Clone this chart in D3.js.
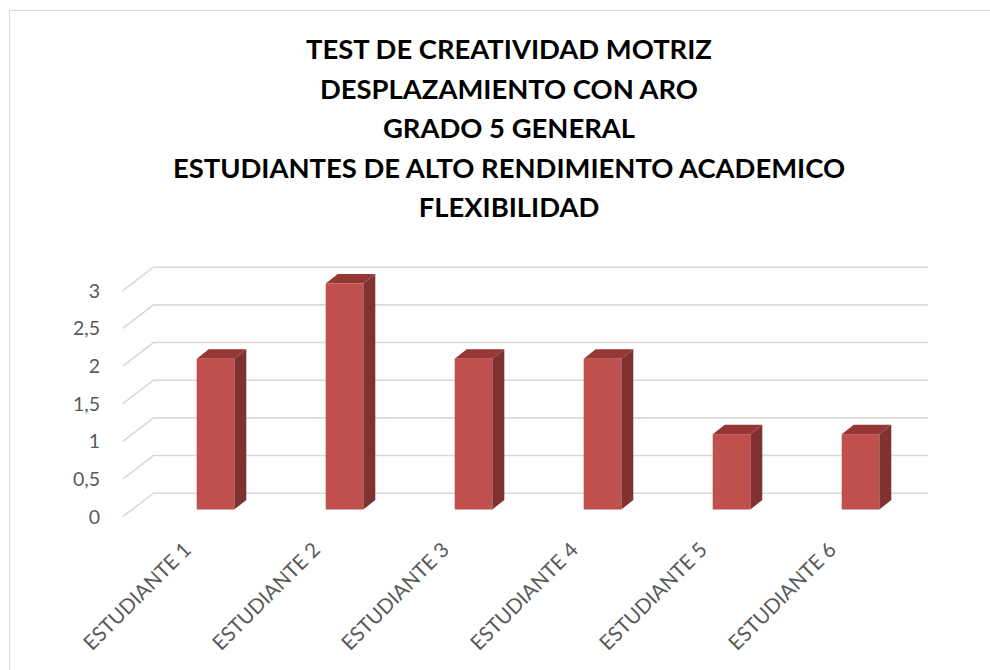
<!DOCTYPE html>
<html>
<head>
<meta charset="utf-8">
<script src="https://cdn.jsdelivr.net/npm/d3@7"></script>
<style>
  html, body { margin: 0; padding: 0; background: #fff; }
  svg { display: block; }
</style>
</head>
<body>
<svg id="chart" width="990" height="670"></svg>
<script>
// ---- data ----
const titleLines = [
  "TEST DE CREATIVIDAD MOTRIZ",
  "DESPLAZAMIENTO CON ARO",
  "GRADO 5 GENERAL",
  "ESTUDIANTES DE ALTO RENDIMIENTO ACADEMICO",
  "FLEXIBILIDAD"
];
const categories = ["ESTUDIANTE 1", "ESTUDIANTE 2", "ESTUDIANTE 3", "ESTUDIANTE 4", "ESTUDIANTE 5", "ESTUDIANTE 6"];
const values = [2, 3, 2, 2, 1, 1];
const yTicks = [0, 0.5, 1, 1.5, 2, 2.5, 3];
const yTickLabels = ["0", "0,5", "1", "1,5", "2", "2,5", "3"];

// ---- layout ----
const svg = d3.select("#chart");
const font = "Lato, 'Open Sans', 'DejaVu Sans', sans-serif";

// outer border
svg.append("rect")
  .attr("x", 9.5).attr("y", 10.5).attr("width", 1000).attr("height", 700)
  .attr("fill", "#fff").attr("stroke", "#d9d9d9").attr("stroke-width", 1);

const x = d3.scaleBand().domain(categories).range([151, 925]).padding(0);
const y = d3.scaleLinear().domain([0, 3]).range([509.5, 283.5]);

// 3D geometry
const wallShift = { dx: 2.5, dy: -16.3 };      // bar front plane -> back wall
const floorDepth = { dx: 30.7, dy: 23.5 };      // back wall -> front edge
const barDepth = { dx: 12, dy: 9.5 };
const barW = 37.6;
const wallLeft = 153.5, wallRight = 928;

// gridlines (back wall + left slanted side)
const grid = svg.append("g");
yTicks.forEach(v => {
  const yb = y(v) + wallShift.dy;
  grid.append("path")
    .attr("d", `M${wallLeft - floorDepth.dx},${yb + floorDepth.dy}L${wallLeft},${yb}L${wallRight},${yb}`)
    .attr("fill", "none").attr("stroke", "#d9d9d9").attr("stroke-width", 1.6);
});

// y labels
svg.append("g").selectAll("text").data(yTicks).join("text")
  .attr("x", 100)
  .attr("y", v => y(v) + wallShift.dy + floorDepth.dy)
  .attr("dy", "0.35em")
  .attr("text-anchor", "end")
  .attr("font-family", font).attr("font-size", 19.5).attr("fill", "#595959")
  .text((v, i) => yTickLabels[i]);

// bars
const bars = svg.append("g");
categories.forEach((c, i) => {
  const cx = x(c) + x.bandwidth() / 2;
  const x0 = cx - barW / 2, x1 = cx + barW / 2;
  const yt = y(values[i]), yb = y(0);
  const g = bars.append("g");
  g.append("path")
    .attr("d", `M${x1},${yt}L${x1 + barDepth.dx},${yt - barDepth.dy}L${x1 + barDepth.dx},${yb - barDepth.dy}L${x1},${yb}Z`)
    .attr("fill", "#7f3230");
  g.append("path")
    .attr("d", `M${x0},${yt}L${x0 + barDepth.dx},${yt - barDepth.dy}L${x1 + barDepth.dx},${yt - barDepth.dy}L${x1},${yt}Z`)
    .attr("fill", "#953735");
  g.append("rect")
    .attr("x", x0).attr("y", yt).attr("width", barW).attr("height", yb - yt)
    .attr("fill", "#c0504d");
});

// x labels
svg.append("g").selectAll("text").data(categories).join("text")
  .attr("transform", c => `translate(${x(c) + x.bandwidth() / 2 - 23},551) rotate(-45)`)
  .attr("text-anchor", "end")
  .attr("font-family", font).attr("font-size", 20.5).attr("fill", "#595959")
  .text(c => c);

// title
const tg = svg.append("g");
const tl = tg.selectAll("text").data(titleLines).join("text")
  .attr("x", 509)
  .attr("y", (d, i) => 59 + i * 39.5)
  .attr("text-anchor", "middle")
  .attr("font-family", font).attr("font-weight", "bold").attr("font-size", 100)
  .attr("fill", "#000")
  .text(d => d);
const w0 = tl.nodes()[0].getComputedTextLength();
const fs = 100 * 406 / w0;
tl.attr("font-size", fs);
</script>
</body>
</html>
